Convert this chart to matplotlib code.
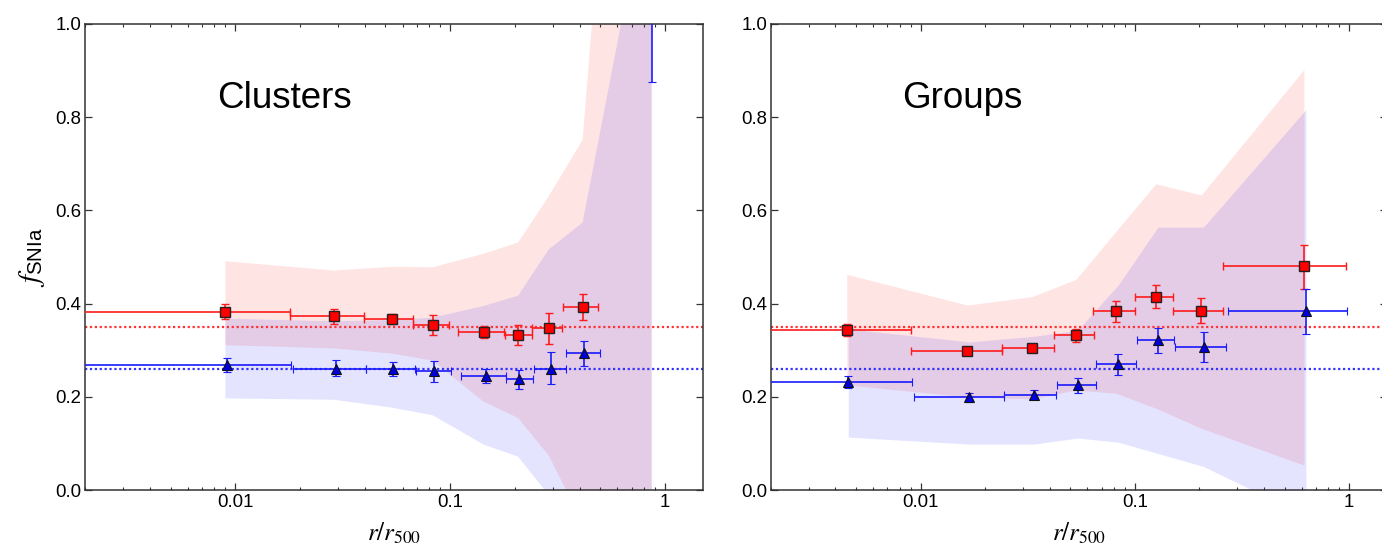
import numpy as np
import matplotlib
matplotlib.use("Agg")
import matplotlib.pyplot as plt
from matplotlib.ticker import FixedLocator, NullFormatter, LogLocator

# ---------------- data: Clusters (left panel) ----------------
cl_red_x = [0.0090, 0.0288, 0.0536, 0.0828, 0.143, 0.207, 0.287, 0.413]
cl_red_y = [0.383, 0.373, 0.367, 0.354, 0.340, 0.333, 0.347, 0.392]
cl_red_yerr_lo = [0.016, 0.016, 0.011, 0.021, 0.013, 0.022, 0.033, 0.028]
cl_red_yerr_hi = [0.016, 0.016, 0.010, 0.022, 0.013, 0.021, 0.032, 0.029]
cl_red_bin_lo = [0.0005, 0.0179, 0.0397, 0.0673, 0.109, 0.179, 0.239, 0.336]
cl_red_bin_hi = [0.0179, 0.0397, 0.0673, 0.0986, 0.178, 0.239, 0.333, 0.489]

cl_blue_x = [0.00913, 0.0293, 0.0543, 0.0843, 0.146, 0.210, 0.293, 0.421, 0.866]
cl_blue_y = [0.268, 0.261, 0.261, 0.256, 0.244, 0.238, 0.261, 0.294, 1.10]
cl_blue_yerr_lo = [0.015, 0.017, 0.015, 0.024, 0.014, 0.021, 0.034, 0.028, 0.225]
cl_blue_yerr_hi = [0.016, 0.018, 0.015, 0.021, 0.015, 0.020, 0.035, 0.027, 0.30]
cl_blue_bin_lo = [0.0005, 0.0185, 0.0407, 0.069, 0.112, 0.182, 0.246, 0.346, 0.60]
cl_blue_bin_hi = [0.0182, 0.0407, 0.0688, 0.101, 0.182, 0.242, 0.345, 0.500, 1.20]

cl_band_x = [0.0090, 0.0288, 0.0536, 0.0828, 0.143, 0.207, 0.287, 0.413, 0.866]
cl_red_band_hi = [0.491, 0.471, 0.479, 0.478, 0.507, 0.531, 0.630, 0.751, 2.60]
cl_red_band_lo = [0.311, 0.304, 0.293, 0.278, 0.190, 0.155, 0.075, -0.07, -1.0]
cl_blue_band_hi = [0.368, 0.362, 0.365, 0.370, 0.395, 0.417, 0.516, 0.574, 1.34]
cl_blue_band_lo = [0.197, 0.194, 0.177, 0.161, 0.098, 0.072, -0.010, -0.30, -1.0]

# ---------------- data: Groups (right panel) ----------------
gr_red_x = [0.00452, 0.0165, 0.0330, 0.0530, 0.0815, 0.125, 0.204, 0.615]
gr_red_y = [0.344, 0.299, 0.305, 0.333, 0.384, 0.415, 0.385, 0.480]
gr_red_yerr_lo = [0.013, 0.009, 0.008, 0.015, 0.023, 0.025, 0.027, 0.048]
gr_red_yerr_hi = [0.012, 0.009, 0.008, 0.013, 0.021, 0.024, 0.027, 0.046]
gr_red_bin_lo = [0.0005, 0.00898, 0.0240, 0.0420, 0.0639, 0.0996, 0.150, 0.259]
gr_red_bin_hi = [0.00898, 0.0240, 0.0420, 0.0643, 0.100, 0.151, 0.258, 0.97]

gr_blue_x = [0.00459, 0.01686, 0.0337, 0.0540, 0.0836, 0.128, 0.209, 0.628]
gr_blue_y = [0.233, 0.199, 0.205, 0.226, 0.270, 0.322, 0.308, 0.384]
gr_blue_yerr_lo = [0.014, 0.009, 0.010, 0.017, 0.023, 0.028, 0.032, 0.050]
gr_blue_yerr_hi = [0.013, 0.010, 0.010, 0.015, 0.022, 0.025, 0.031, 0.048]
gr_blue_bin_lo = [0.0005, 0.00931, 0.0245, 0.0431, 0.0655, 0.1021, 0.1533, 0.2716]
gr_blue_bin_hi = [0.00908, 0.0244, 0.0426, 0.0655, 0.1016, 0.153, 0.2668, 0.98]

gr_red_band_hi = [0.463, 0.397, 0.415, 0.452, 0.555, 0.657, 0.633, 0.902]
gr_red_band_lo = [0.226, 0.200, 0.196, 0.215, 0.208, 0.176, 0.133, 0.054]
gr_blue_band_hi = [0.346, 0.318, 0.330, 0.343, 0.440, 0.564, 0.564, 0.816]
gr_blue_band_lo = [0.114, 0.099, 0.099, 0.112, 0.103, 0.079, 0.051, -0.055]

red_mean = 0.35
blue_mean = 0.26

x_ticks = [0.01, 0.1, 1]
x_ticklabels = ["0.01", "0.1", "1"]
y_ticks = [0.0, 0.2, 0.4, 0.6, 0.8, 1.0]
y_ticklabels = ["0.0", "0.2", "0.4", "0.6", "0.8", "1.0"]

# ---------------- style ----------------
plt.rcParams["font.family"] = ["Liberation Sans", "DejaVu Sans"]
plt.rcParams["mathtext.fontset"] = "stix"

RED = "#ff1a1a"
BLUE = "#1a1aff"
SPINE = "#333333"

fig = plt.figure(figsize=(13.82, 5.49), dpi=100)
W, H = 1382.0, 549.0
bottom = (H - 490.3) / H
height = (490.3 - 23.7) / H
ax1 = fig.add_axes([85.0 / W, bottom, 618.0 / W, height])
ax2 = fig.add_axes([770.9 / W, bottom, 616.0 / W, height])


def draw_panel(ax, rx, ry, rylo, ryhi, rblo, rbhi, bx, by, bylo, byhi, bblo, bbhi,
               rbx, rband_lo, rband_hi, bbx, bband_lo, bband_hi, title):
    ax.set_xscale("log")
    ax.set_xlim(0.002, 1.5)
    ax.set_ylim(0.0, 1.0)

    ax.fill_between(rbx, rband_lo, rband_hi, color=(1.0, 0.0, 0.0), alpha=0.105,
                    lw=0, zorder=1)
    ax.fill_between(bbx, bband_lo, bband_hi, color=(0.0, 0.0, 1.0), alpha=0.105,
                    lw=0, zorder=1)

    ax.axhline(red_mean, color="#ff3333", ls=(0, (1, 1.2)), lw=1.6, zorder=2)
    ax.axhline(blue_mean, color="#3333ff", ls=(0, (1, 1.2)), lw=1.6, zorder=2)

    rx = np.array(rx); bx = np.array(bx)
    rxerr = [rx - np.array(rblo), np.array(rbhi) - rx]
    bxerr = [bx - np.array(bblo), np.array(bbhi) - bx]
    ax.errorbar(rx, ry, yerr=[rylo, ryhi], xerr=rxerr, fmt="s", color=RED,
                mfc="red", mec="#222222", mew=1.0, ms=7, elinewidth=1.2,
                capsize=2.8, capthick=1.2, zorder=4)
    ax.errorbar(bx, by, yerr=[bylo, byhi], xerr=bxerr, fmt="^", color=BLUE,
                mfc="#0000dd", mec="#111111", mew=0.8, ms=7.5, elinewidth=1.2,
                capsize=2.8, capthick=1.2, zorder=4)

    ax.xaxis.set_major_locator(FixedLocator(x_ticks))
    ax.set_xticklabels(x_ticklabels)
    ax.xaxis.set_minor_locator(LogLocator(base=10, subs=np.arange(2, 10)))
    ax.xaxis.set_minor_formatter(NullFormatter())
    ax.set_yticks(y_ticks)
    ax.set_yticklabels(y_ticklabels)

    ax.tick_params(which="both", direction="in", top=True, right=True,
                   color=SPINE, labelsize=13.4, labelcolor="black")
    ax.tick_params(which="major", length=5, width=0.9)
    ax.tick_params(which="minor", length=2.5, width=0.8)
    ax.tick_params(axis="x", pad=3.0)
    ax.tick_params(axis="y", pad=2.5)
    for s in ax.spines.values():
        s.set_color(SPINE)
        s.set_linewidth(1.1)

    ax.text(0.213, 0.819, title, transform=ax.transAxes, fontsize=26.5,
            ha="left", va="baseline", color="black")
    ax.text(0.5, -0.108, r"$r/r_{500}$", transform=ax.transAxes, fontsize=18,
            ha="center", va="baseline", color="black")


draw_panel(ax1, cl_red_x, cl_red_y, cl_red_yerr_lo, cl_red_yerr_hi, cl_red_bin_lo,
           cl_red_bin_hi, cl_blue_x, cl_blue_y, cl_blue_yerr_lo, cl_blue_yerr_hi,
           cl_blue_bin_lo, cl_blue_bin_hi, cl_band_x, cl_red_band_lo, cl_red_band_hi,
           cl_band_x, cl_blue_band_lo, cl_blue_band_hi, "Clusters")
draw_panel(ax2, gr_red_x, gr_red_y, gr_red_yerr_lo, gr_red_yerr_hi, gr_red_bin_lo,
           gr_red_bin_hi, gr_blue_x, gr_blue_y, gr_blue_yerr_lo, gr_blue_yerr_hi,
           gr_blue_bin_lo, gr_blue_bin_hi, gr_red_x, gr_red_band_lo, gr_red_band_hi,
           gr_blue_x, gr_blue_band_lo, gr_blue_band_hi, "Groups")

ax1.text(-0.086, 0.5, r"$f_{\mathregular{SNIa}}$", transform=ax1.transAxes, fontsize=21,
         rotation=90, ha="center", va="center", color="black")

fig.savefig("out.png", dpi=100)
